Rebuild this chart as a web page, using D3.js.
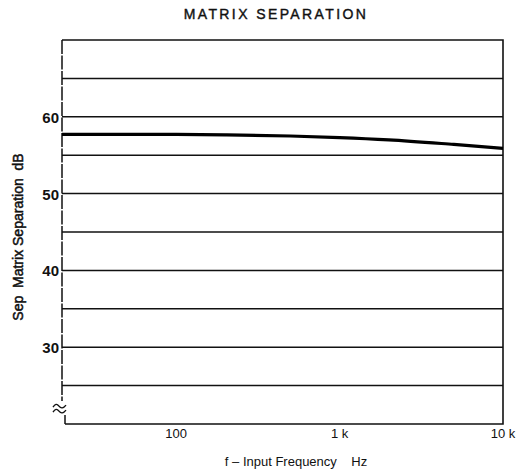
<!DOCTYPE html>
<html>
<head>
<meta charset="utf-8">
<script src="https://cdn.jsdelivr.net/npm/d3@7"></script>
<style>
  body { margin: 0; background: #fff; }
  text { font-family: "Liberation Sans", Arial, sans-serif; fill: #111; }
</style>
</head>
<body>
<div id="graphic"></div>
<script>
(function(d3){

    // Canvas size
    let width = 518, height = 474;

    // Plot box
    let left = 62, right = 503, top = 40, bottom = 424;

    // Data
    let freqs = [20, 50, 100, 200, 500, 1000, 2000, 5000, 10000];
    let sepDb = [57.7, 57.7, 57.7, 57.65, 57.5, 57.3, 57.0, 56.4, 55.9];

    let gridDb = [25, 30, 35, 40, 45, 50, 55, 60, 65];
    let yTickDb = [30, 40, 50, 60];
    let xTicks = [100, 1000, 10000];
    let xTickLabels = ['100', '1 k', '10 k'];

    let svg = d3.select('#graphic')
                .append('svg')
                .attr('width', width)
                .attr('height', height);

    let x = d3.scaleLog().domain([20, 10000]).range([left, right]);
    let y = d3.scaleLinear().domain([20, 70]).range([bottom, top]);

    // Title
    svg.append('text')
       .attr('x', 276).attr('y', 19)
       .attr('text-anchor', 'middle')
       .style('font-size', '14px')
       .style('stroke', '#111')
       .style('stroke-width', 0.4)
       .style('letter-spacing', '2.4px')
       .text('MATRIX SEPARATION');

    // Horizontal grid lines
    svg.selectAll('.grid')
       .data(gridDb)
       .enter().append('line')
       .attr('x1', left).attr('x2', right)
       .attr('y1', d => y(d)).attr('y2', d => y(d))
       .attr('stroke', '#111')
       .attr('stroke-width', 1.5);

    // Frame: top, right, bottom
    svg.append('path')
       .attr('d', `M${left},${y(70)}H${right}V${y(20)}H${left + 3}`)
       .attr('fill', 'none')
       .attr('stroke', '#111')
       .attr('stroke-width', 1.6);

    // Left axis with a break near the bottom
    let breakY = y(22.2);
    svg.append('path')
       .attr('d', `M${left},${y(70)}V${breakY - 6}`)
       .attr('fill', 'none').attr('stroke', '#111').attr('stroke-width', 1.5)
       .attr('stroke-dasharray', '14,1.5');
    svg.append('path')
       .attr('d', `M${left + 3},${breakY + 8}V${y(20)}`)
       .attr('fill', 'none').attr('stroke', '#111').attr('stroke-width', 1.5);
    [-2, 3].forEach(dy => {
        svg.append('path')
           .attr('d', `M${left - 9},${breakY + dy + 2} q3,-5 6,-1 t7,-1`)
           .attr('fill', 'none').attr('stroke', '#111').attr('stroke-width', 1.4);
    });

    // Y tick labels
    svg.selectAll('.ylab')
       .data(yTickDb)
       .enter().append('text')
       .attr('x', left - 3)
       .attr('y', d => y(d) + 6)
       .attr('text-anchor', 'end')
       .style('font-size', '15px')
       .style('font-weight', 'bold')
       .text(d => d);

    // X tick labels
    svg.selectAll('.xlab')
       .data(xTicks)
       .enter().append('text')
       .attr('x', d => x(d))
       .attr('y', bottom + 14)
       .attr('text-anchor', 'middle')
       .style('font-size', '13px')
       .text((d, i) => xTickLabels[i]);

    // Axis titles
    svg.append('text')
       .attr('x', 296).attr('y', 466)
       .attr('text-anchor', 'middle')
       .style('font-size', '13px')
       .attr('xml:space', 'preserve')
       .text('f – Input Frequency    Hz');

    svg.append('text')
       .attr('transform', 'translate(23,237) rotate(-90)')
       .attr('text-anchor', 'middle')
       .style('font-size', '14px')
       .style('stroke', '#111')
       .style('stroke-width', 0.5)
       .attr('xml:space', 'preserve')
       .text('Sep  Matrix Separation  dB');

    // Separation curve
    let line = d3.line()
        .x((d, i) => x(freqs[i]))
        .y(d => y(d))
        .curve(d3.curveMonotoneX);

    svg.append('path')
       .datum(sepDb)
       .attr('d', line)
       .attr('fill', 'none')
       .attr('stroke', '#000')
       .attr('stroke-width', 3.2);

})(window.d3);
</script>
</body>
</html>
